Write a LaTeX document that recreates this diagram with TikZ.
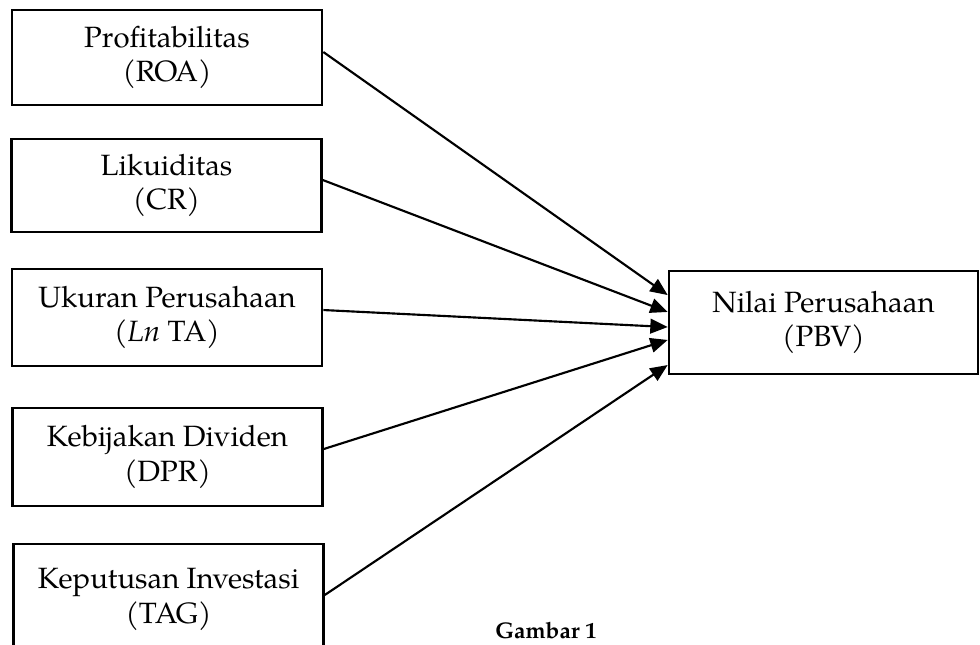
\documentclass[tikz,border=0pt]{standalone}
\usepackage{fontspec}
\setmainfont{TeX Gyre Pagella}
\usetikzlibrary{arrows.meta}
\tikzset{
  varbox/.style={draw, line width=2pt, align=center, inner sep=0pt,
    font=\fontsize{22}{26}\selectfont, minimum width=232.5pt},
  arr/.style={line width=1.6pt, -{Triangle[length=13pt,width=11pt]}},
  caption/.style={font=\fontsize{17}{20}\selectfont\bfseries, inner sep=0pt}
}
\begin{document}
\begin{tikzpicture}[x=0.75pt, y=-0.75pt]
\useasboundingbox (0,0) rectangle (980,645);
\clip (0,0) rectangle (980,645);
\node[varbox, minimum height=71.25pt] (b1) at (167,57.5) {Profitabilitas\\(ROA)};
\node[varbox, minimum height=69.75pt] (b2) at (166.5,185.5) {Likuiditas\\(CR)};
\node[varbox, minimum height=72.75pt] (b3) at (167,317.5) {Ukuran Perusahaan\\(\textit{Ln} TA)};
\node[varbox, minimum height=73.5pt] (b4) at (167.5,457) {Kebijakan Dividen\\(DPR)};
\node[varbox, minimum height=83.25pt] (b5) at (168.5,599.5) {Keputusan Investasi\\(TAG)};
\node[varbox, minimum width=231.75pt, minimum height=77.25pt] (t) at (823.5,322.5) {Nilai Perusahaan\\(PBV)};
\draw[arr] ([yshift=4.1pt]b1.east) -- ([yshift=20.6pt]t.west);
\draw[arr] ([yshift=4.1pt]b2.east) -- ([yshift=7.9pt]t.west);
\draw[arr] ([yshift=5.6pt]b3.east) -- ([yshift=-3.4pt]t.west);
\draw[arr] ([yshift=6pt]b4.east) -- ([yshift=-13.1pt]t.west);
\draw[arr] ([yshift=3.4pt]b5.east) -- ([yshift=-31.9pt]t.west);
\node[caption, anchor=base] (cap) at (546,638) {Gambar 1};
\end{tikzpicture}
\end{document}
